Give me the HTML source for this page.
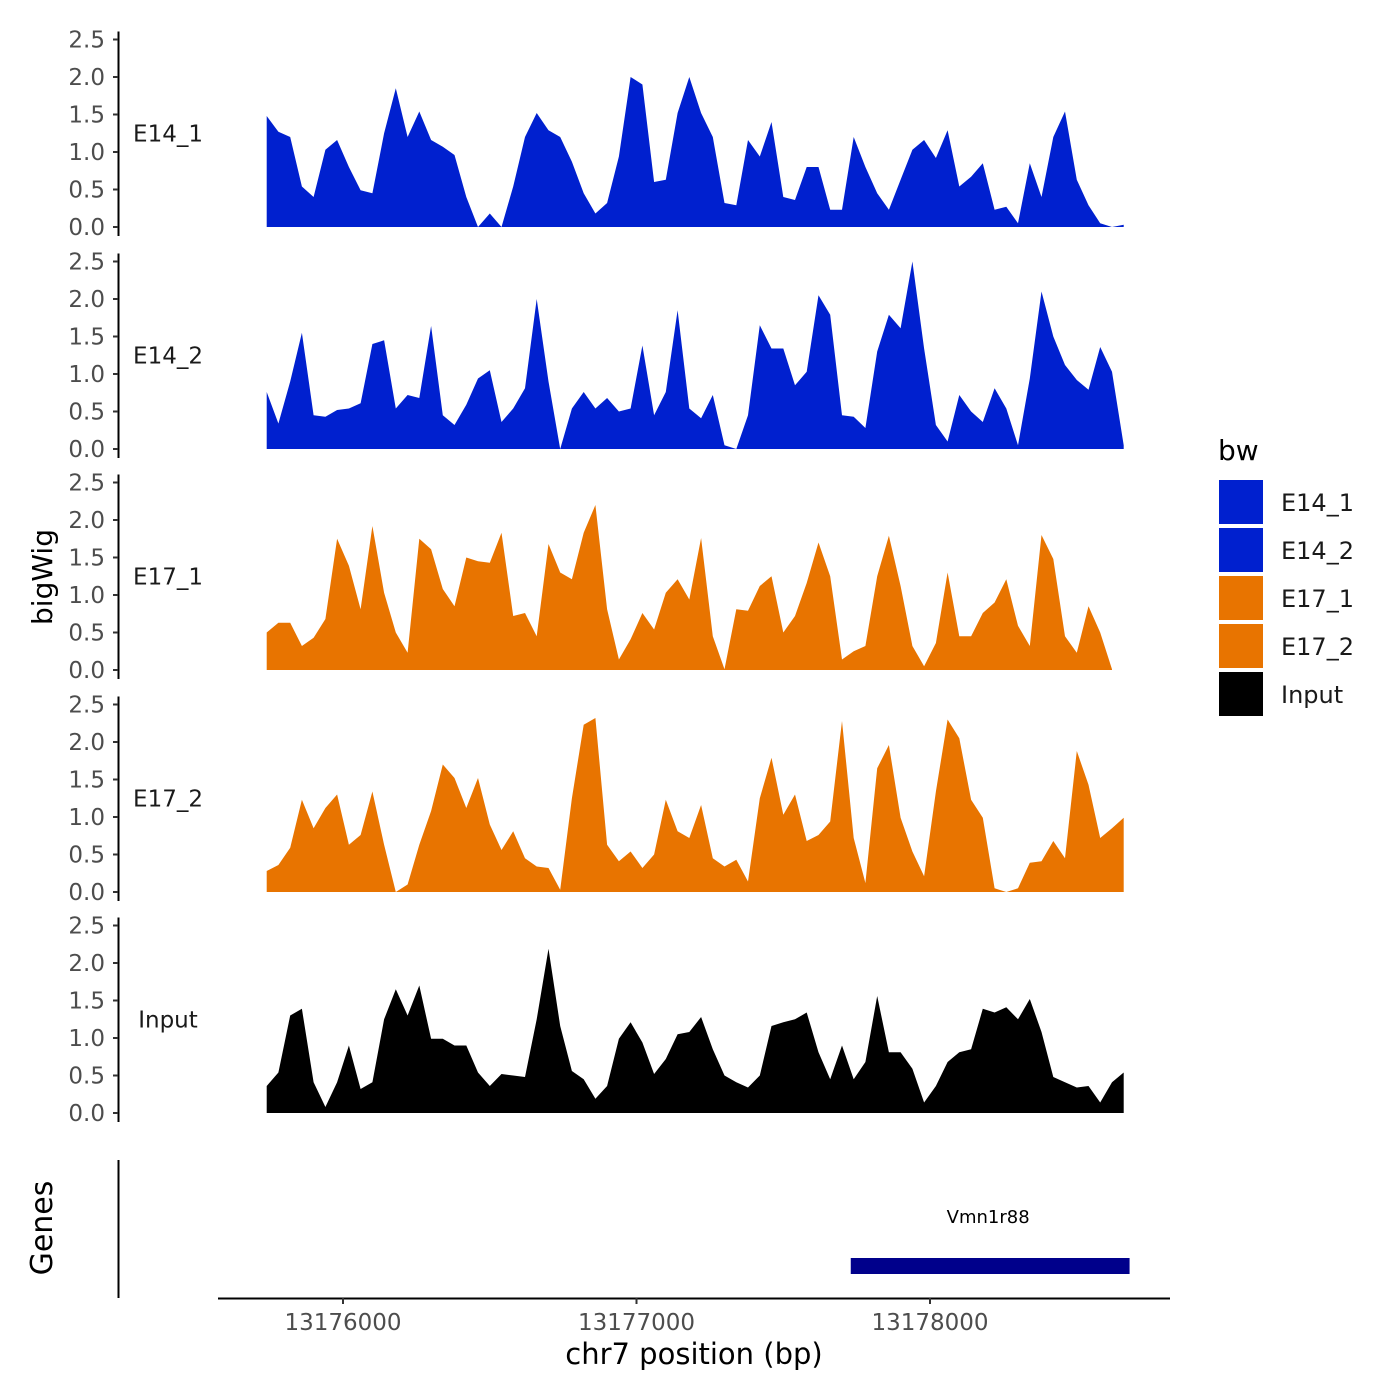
<!DOCTYPE html>
<html><head><meta charset="utf-8"><style>
body{margin:0;background:#fff}
svg{display:block;font-family:"DejaVu Sans","Liberation Sans",sans-serif}
</style></head><body>
<svg id="chart" width="1400" height="1400" viewBox="0 0 1400 1400">
<g id="tracks"></g>
<g id="xaxis"></g>
<text x="52" y="577" font-size="28" text-anchor="middle" transform="rotate(-90 52 577)" fill="#000">bigWig</text>
<g>
<line x1="118.5" y1="1160" x2="118.5" y2="1298" stroke="#000" stroke-width="2"/>
<text x="52" y="1228" font-size="30" text-anchor="middle" transform="rotate(-90 52 1228)" fill="#000">Genes</text>
<rect id="genebar" y="1258" height="16" fill="#00008B"/>
<text id="genelabel" y="1223" font-size="18" text-anchor="middle" fill="#000">Vmn1r88</text>
</g>
<g>
<text x="1218" y="460" font-size="28" fill="#000">bw</text>
<g id="legend"></g>
</g>
</svg>
<script>
const NS="http://www.w3.org/2000/svg";
const startBp=13175740, stepBp=40;
const trackNames=["E14_1","E14_2","E17_1","E17_2","Input"];
const trackColors=["#0020CF","#0020CF","#E87400","#E87400","#000000"];
const e14_1=[1.48,1.27,1.2,0.54,0.4,1.03,1.16,0.8,0.49,0.45,1.25,1.85,1.2,1.54,1.16,1.07,0.96,0.4,0,0.18,0,0.54,1.2,1.52,1.29,1.2,0.87,0.45,0.18,0.32,0.94,2.0,1.9,0.6,0.63,1.52,2.0,
1.52,1.2,0.32,0.29,1.16,0.94,1.4,0.4,0.36,0.8,0.8,0.23,0.23,1.2,0.8,0.45,0.23,0.63,1.03,1.16,0.92,1.29,0.54,0.67,0.85,0.23,0.27,0.05,0.85,0.4,1.2,1.54,0.63,0.29,0.05,0,0.03];
const e14_2=[0.76,0.34,0.9,1.55,0.45,0.43,0.52,0.54,0.61,1.4,1.45,0.54,0.72,0.68,1.64,0.45,0.32,0.59,0.94,1.05,0.36,0.54,0.81,2.0,0.9,0,0.54,0.76,0.54,0.68,0.5,0.54,1.38,0.45,0.76,1.85,0.54,
0.41,0.72,0.05,0,0.45,1.65,1.34,1.34,0.85,1.03,2.05,1.79,0.45,0.43,0.28,1.3,1.79,1.61,2.5,1.34,0.32,0.1,0.72,0.5,0.36,0.81,0.54,0.05,0.94,2.1,1.5,1.12,0.92,0.79,1.36,1.03,0.05];
const e17_1=[0.5,0.63,0.63,0.32,0.43,0.68,1.75,1.39,0.81,1.92,1.03,0.5,0.23,1.75,1.61,1.08,0.85,1.5,1.45,1.43,1.83,0.72,0.76,0.45,1.68,1.3,1.21,1.83,2.2,0.81,0.14,0.41,0.76,0.54,1.03,1.21,0.94,
1.76,0.45,0.01,0.81,0.79,1.12,1.25,0.5,0.72,1.16,1.7,1.25,0.14,0.25,0.32,1.25,1.79,1.12,0.32,0.05,0.36,1.3,0.45,0.45,0.76,0.9,1.21,0.59,0.32,1.8,1.48,0.45,0.23,0.85,0.5,0.01,null];
const e17_2=[0.28,0.36,0.59,1.23,0.85,1.12,1.3,0.63,0.76,1.34,0.63,0,0.1,0.63,1.08,1.7,1.52,1.12,1.52,0.9,0.56,0.81,0.45,0.34,0.32,0.03,1.25,2.23,2.32,0.63,0.41,0.54,0.32,0.5,1.23,0.81,0.72,
1.16,0.45,0.34,0.43,0.14,1.25,1.79,1.03,1.3,0.68,0.76,0.94,2.28,0.72,0.12,1.65,1.96,0.99,0.54,0.21,1.34,2.3,2.05,1.23,0.99,0.05,0,0.05,0.39,0.41,0.68,0.45,1.88,1.43,0.72,0.85,0.99];
const input=[0.36,0.54,1.3,1.39,0.41,0.08,0.41,0.9,0.32,0.41,1.25,1.65,1.3,1.7,0.99,0.99,0.9,0.9,0.54,0.36,0.52,0.5,0.48,1.25,2.19,1.16,0.56,0.45,0.19,0.36,0.99,1.21,0.94,0.52,0.72,1.05,1.08,
1.28,0.85,0.5,0.41,0.34,0.5,1.16,1.21,1.25,1.34,0.81,0.45,0.9,0.45,0.68,1.56,0.81,0.81,0.59,0.14,0.36,0.68,0.81,0.85,1.39,1.34,1.41,1.25,1.52,1.08,0.48,0.41,0.34,0.36,0.14,0.41,0.54];
const series=[e14_1,e14_2,e17_1,e17_2,input];
const yTicks=[0,0.5,1,1.5,2,2.5];
const yTickLabels=["0.0","0.5","1.0","1.5","2.0","2.5"];
const xTicks=[13176000,13177000,13178000];
const geneName="Vmn1r88", geneStart=13177730, geneEnd=13178680;

const xS=bp=>343+(bp-13176000)*0.2935;
const zeroY=[227,449,670,892,1113];
const yS=(t,v)=>zeroY[t]-v*75;
const tracks=document.getElementById('tracks');
function mk(tag,attrs,parent){const e=document.createElementNS(NS,tag);for(const k in attrs)e.setAttribute(k,attrs[k]);parent.appendChild(e);return e;}

series.forEach((vals,t)=>{
  const g=mk('g',{},tracks);
  
  
  const ax=mk('line',{x1:118.5,x2:118.5,y1:yS(t,2.5)-8,y2:zeroY[t]+9,stroke:'#000','stroke-width':2},g);
  
  
  yTicks.forEach((v,i)=>{
    const y=yS(t,v);
    const tk=mk('line',{x1:113,x2:118,y1:y,y2:y,stroke:'#333','stroke-width':2},g);
    
    
    const tl=mk('text',{x:105,y:y+8,'font-size':23,'text-anchor':'end',fill:'#4d4d4d'},g);
    tl.textContent=yTickLabels[i];
    
    
  });
  const lab=mk('text',{x:168,y:yS(t,1.25)+8,'font-size':23,'text-anchor':'middle',fill:'#1a1a1a'},g);
  lab.textContent=trackNames[t];
  
  
  let seg=[];
  const flush=()=>{
    if(seg.length>1){
      let d='M'+seg[0][0]+','+zeroY[t];
      seg.forEach(p=>d+=' L'+p[0]+','+p[1]);
      d+=' L'+seg[seg.length-1][0]+','+zeroY[t]+'Z';
      const p=mk('path',{d:d,fill:trackColors[t]},g);
      
      
    }
    seg=[];
  };
  vals.forEach((v,i)=>{
    if(v===null){flush();return;}
    seg.push([xS(startBp+i*stepBp).toFixed(1),yS(t,v).toFixed(1)]);
  });
  flush();
});

const xa=document.getElementById('xaxis');
const xl=mk('line',{x1:218,x2:1170,y1:1298.5,y2:1298.5,stroke:'#000','stroke-width':2},xa);


xTicks.forEach(v=>{
  const x=xS(v);
  const tk=mk('line',{x1:x,x2:x,y1:1298,y2:1304,stroke:'#333','stroke-width':2},xa);
  
  
  const tl=mk('text',{x:x,y:1330,'font-size':23,'text-anchor':'middle',fill:'#4d4d4d'},xa);
  tl.textContent=String(v);
  
  
});
const xt=mk('text',{x:694,y:1364,'font-size':29,'text-anchor':'middle',fill:'#000'},xa);
xt.textContent='chr7 position (bp)';



const gb=document.getElementById('genebar');
gb.setAttribute('x',xS(geneStart));
gb.setAttribute('width',xS(geneEnd)-xS(geneStart));
const gl=document.getElementById('genelabel');
gl.setAttribute('x',(xS(geneStart)+xS(geneEnd))/2-2);
gl.textContent=geneName;

const lg=document.getElementById('legend');
const legendColors=["#0020CF","#0020CF","#E87400","#E87400","#000000"];
trackNames.forEach((n,i)=>{
  const y=480+i*48;
  const r=mk('rect',{x:1219,y:y,width:44,height:44,fill:legendColors[i]},lg);
  
  
  const t=mk('text',{x:1281,y:y+31,'font-size':24,fill:'#1a1a1a'},lg);
  t.textContent=n;
  
  
});
</script>
</body></html>
